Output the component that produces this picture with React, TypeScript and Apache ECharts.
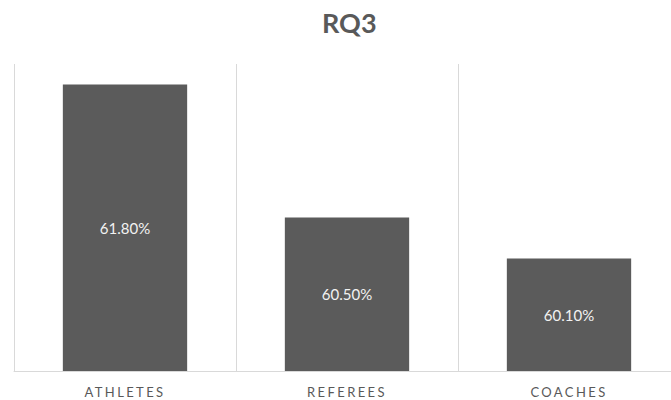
import React, { useEffect, useRef } from "react";
import * as echarts from "echarts";

const chartTitle = "RQ3";
const categories = ["ATHLETES", "REFEREES", "COACHES"];
const shares = [61.8, 60.5, 60.1];
const axisMin = 59;
const axisMax = 62;

// category labels are drawn spaced out; they are the only 13px texts
const labelCss = `.rq3-chart svg text[style*="13px"] { letter-spacing: 2.4px; }`;

export default function App() {
  const ref = useRef<HTMLDivElement>(null);

  useEffect(() => {
    if (!ref.current) return;
    const chart = echarts.init(ref.current, undefined, { renderer: "svg" });
    chart.setOption({
      animation: false,
      backgroundColor: "#ffffff",
      title: {
        text: chartTitle,
        left: 317,
        top: 4,
        textStyle: {
          fontFamily: "Lato",
          fontWeight: "bold",
          fontSize: 27,
          color: "#595959",
        },
      },
      // the plot runs a little past the right edge of the visible frame
      grid: { left: 14, top: 64, width: 666, height: 307, containLabel: false },
      xAxis: {
        type: "category",
        data: categories,
        axisLine: { lineStyle: { color: "#d9d9d9", width: 1 } },
        axisTick: { show: false },
        splitLine: { show: true, lineStyle: { color: "#d9d9d9", width: 1 } },
        axisLabel: {
          margin: 14,
          fontFamily: "Lato",
          fontSize: 13,
          color: "#595959",
        },
      },
      yAxis: {
        type: "value",
        min: axisMin,
        max: axisMax,
        show: false,
        splitLine: { show: false },
      },
      series: [
        {
          type: "bar",
          data: shares,
          barWidth: "56%",
          itemStyle: { color: "#5b5b5b" },
          label: {
            show: true,
            position: "inside",
            formatter: (p: any) => `${Number(p.value).toFixed(2)}%`,
            fontFamily: "Lato",
            fontSize: 15,
            color: "#f2f2f2",
          },
        },
      ],
    });
    return () => chart.dispose();
  }, []);

  return (
    <div
      style={{
        position: "fixed",
        left: 0,
        top: 0,
        width: 671,
        height: 400,
        overflow: "hidden",
        background: "#ffffff",
      }}
    >
      <style>{labelCss}</style>
      <div className="rq3-chart" ref={ref} style={{ width: 700, height: 400 }} />
    </div>
  );
}
